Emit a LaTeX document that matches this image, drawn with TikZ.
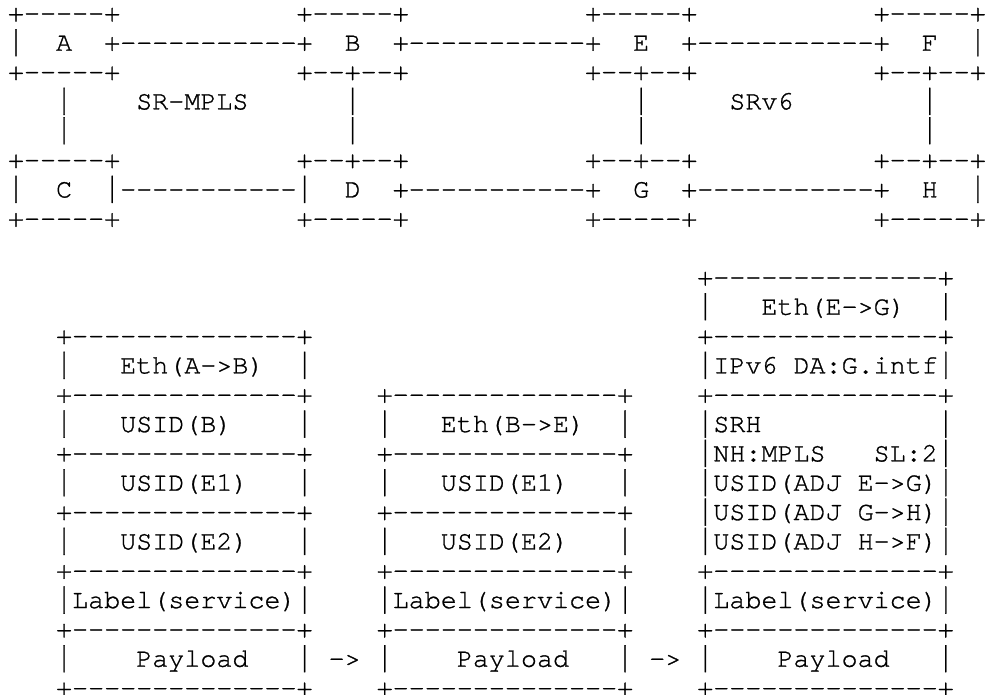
\documentclass[tikz,border=0pt]{standalone}
\usepackage{fontspec}
\setmonofont{texgyrecursor-regular.otf}[FakeBold=1]
\newcommand\boxedge{+--------------+}
\newsavebox\vbbox
\newdimen\vbh
% a taller vertical bar glyph, as Courier New draws it
\newcommand\vb{\sbox\vbbox{|}\vbh=\dimexpr\ht\vbbox+\dp\vbbox\relax
  \pgfmathsetmacro\vbs{27.0/\vbh}%
  \raisebox{-5.5pt}{\scalebox{1}[\vbs]{\raisebox{\dp\vbbox}{\usebox\vbbox}}}}
\newcommand\ac[4]{\node[asc] (#1) at ({8+#2*16.03},{-(21.4+#3*29.333)}) {#4};}
\tikzset{asc/.style={anchor=base west, inner sep=0pt, outer sep=0pt,
  font=\ttfamily\fontsize{26.72}{30}\selectfont, text=black}}
\begin{document}
\frenchspacing
\begin{tikzpicture}[x=1pt,y=1pt]
\useasboundingbox (0,0) rectangle (987,-694);
% ---------- top network ----------
\ac{a0}{0}{0}{+-----+}
\ac{b0}{18}{0}{+-----+}
\ac{e0}{36}{0}{+-----+}
\ac{f0}{54}{0}{+-----+}
\ac{a1l}{0}{1}{\vb}
\ac{A}{3}{1}{A}
\ac{ab}{6}{1}{+-----------+}
\ac{B}{21}{1}{B}
\ac{be}{24}{1}{+-----------+}
\ac{E}{39}{1}{E}
\ac{ef}{42}{1}{+-----------+}
\ac{F}{57}{1}{F}
\ac{f1r}{60}{1}{\vb}
\ac{a2}{0}{2}{+-----+}
\ac{b2}{18}{2}{+--+--+}
\ac{e2}{36}{2}{+--+--+}
\ac{f2}{54}{2}{+--+--+}
\ac{ac3}{3}{3}{\vb}
\ac{srmpls}{8}{3}{SR-MPLS}
\ac{bd3}{21}{3}{\vb}
\ac{eg3}{39}{3}{\vb}
\ac{srv6}{45}{3}{SRv6}
\ac{fh3}{57}{3}{\vb}
\ac{ac4}{3}{4}{\vb}
\ac{bd4}{21}{4}{\vb}
\ac{eg4}{39}{4}{\vb}
\ac{fh4}{57}{4}{\vb}
\ac{c5}{0}{5}{+-----+}
\ac{d5}{18}{5}{+--+--+}
\ac{g5}{36}{5}{+--+--+}
\ac{h5}{54}{5}{+--+--+}
\ac{c6l}{0}{6}{\vb}
\ac{C}{3}{6}{C}
\ac{cd}{6}{6}{\vb-----------\vb}
\ac{D}{21}{6}{D}
\ac{dg}{24}{6}{+-----------+}
\ac{G}{39}{6}{G}
\ac{gh}{42}{6}{+-----------+}
\ac{H}{57}{6}{H}
\ac{h6r}{60}{6}{\vb}
\ac{c7}{0}{7}{+-----+}
\ac{d7}{18}{7}{+-----+}
\ac{g7}{36}{7}{+-----+}
\ac{h7}{54}{7}{+-----+}
% ---------- packet stacks ----------
\ac{r9}{43}{9}{\boxedge}
\ac{r10l}{43}{10}{\vb}
\ac{ethEG}{47}{10}{Eth(E->G)}
\ac{r10r}{58}{10}{\vb}
\ac{l11}{3}{11}{\boxedge}
\ac{r11}{43}{11}{\boxedge}
\ac{l12l}{3}{12}{\vb}
\ac{ethAB}{7}{12}{Eth(A->B)}
\ac{l12r}{18}{12}{\vb}
\ac{ipv6}{43}{12}{\vb IPv6~DA:G.intf\vb}
\ac{l13}{3}{13}{\boxedge}
\ac{m13}{23}{13}{\boxedge}
\ac{r13}{43}{13}{\boxedge}
\ac{l14l}{3}{14}{\vb}
\ac{usidB}{7}{14}{USID(B)}
\ac{l14r}{18}{14}{\vb}
\ac{m14l}{23}{14}{\vb}
\ac{ethBE}{27}{14}{Eth(B->E)}
\ac{m14r}{38}{14}{\vb}
\ac{srh}{43}{14}{\vb SRH}
\ac{r14r}{58}{14}{\vb}
\ac{l15}{3}{15}{\boxedge}
\ac{m15}{23}{15}{\boxedge}
\ac{nh}{43}{15}{\vb NH:MPLS}
\ac{sl}{54}{15}{SL:2\vb}
\ac{l16l}{3}{16}{\vb}
\ac{usidEa}{7}{16}{USID(E1)}
\ac{l16r}{18}{16}{\vb}
\ac{m16l}{23}{16}{\vb}
\ac{usidEb}{27}{16}{USID(E1)}
\ac{m16r}{38}{16}{\vb}
\ac{adjEG}{43}{16}{\vb USID(ADJ~E->G)\vb}
\ac{l17}{3}{17}{\boxedge}
\ac{m17}{23}{17}{\boxedge}
\ac{adjGH}{43}{17}{\vb USID(ADJ~G->H)\vb}
\ac{l18l}{3}{18}{\vb}
\ac{usidEc}{7}{18}{USID(E2)}
\ac{l18r}{18}{18}{\vb}
\ac{m18l}{23}{18}{\vb}
\ac{usidEd}{27}{18}{USID(E2)}
\ac{m18r}{38}{18}{\vb}
\ac{adjHF}{43}{18}{\vb USID(ADJ~H->F)\vb}
\ac{l19}{3}{19}{\boxedge}
\ac{m19}{23}{19}{\boxedge}
\ac{r19}{43}{19}{\boxedge}
\ac{labL}{3}{20}{\vb Label(service)\vb}
\ac{labM}{23}{20}{\vb Label(service)\vb}
\ac{labR}{43}{20}{\vb Label(service)\vb}
\ac{l21}{3}{21}{\boxedge}
\ac{m21}{23}{21}{\boxedge}
\ac{r21}{43}{21}{\boxedge}
\ac{l22l}{3}{22}{\vb}
\ac{payL}{8}{22}{Payload}
\ac{l22r}{18}{22}{\vb}
\ac{arr1}{20}{22}{->}
\ac{m22l}{23}{22}{\vb}
\ac{payM}{28}{22}{Payload}
\ac{m22r}{38}{22}{\vb}
\ac{arr2}{40}{22}{->}
\ac{r22l}{43}{22}{\vb}
\ac{payR}{48}{22}{Payload}
\ac{r22r}{58}{22}{\vb}
\ac{l23}{3}{22.9}{\raisebox{-3pt}[0.6em][0pt]{\boxedge}}
\ac{m23}{23}{22.9}{\raisebox{-3pt}[0.6em][0pt]{\boxedge}}
\ac{r23}{43}{22.9}{\raisebox{-3pt}[0.6em][0pt]{\boxedge}}
\end{tikzpicture}
\end{document}
